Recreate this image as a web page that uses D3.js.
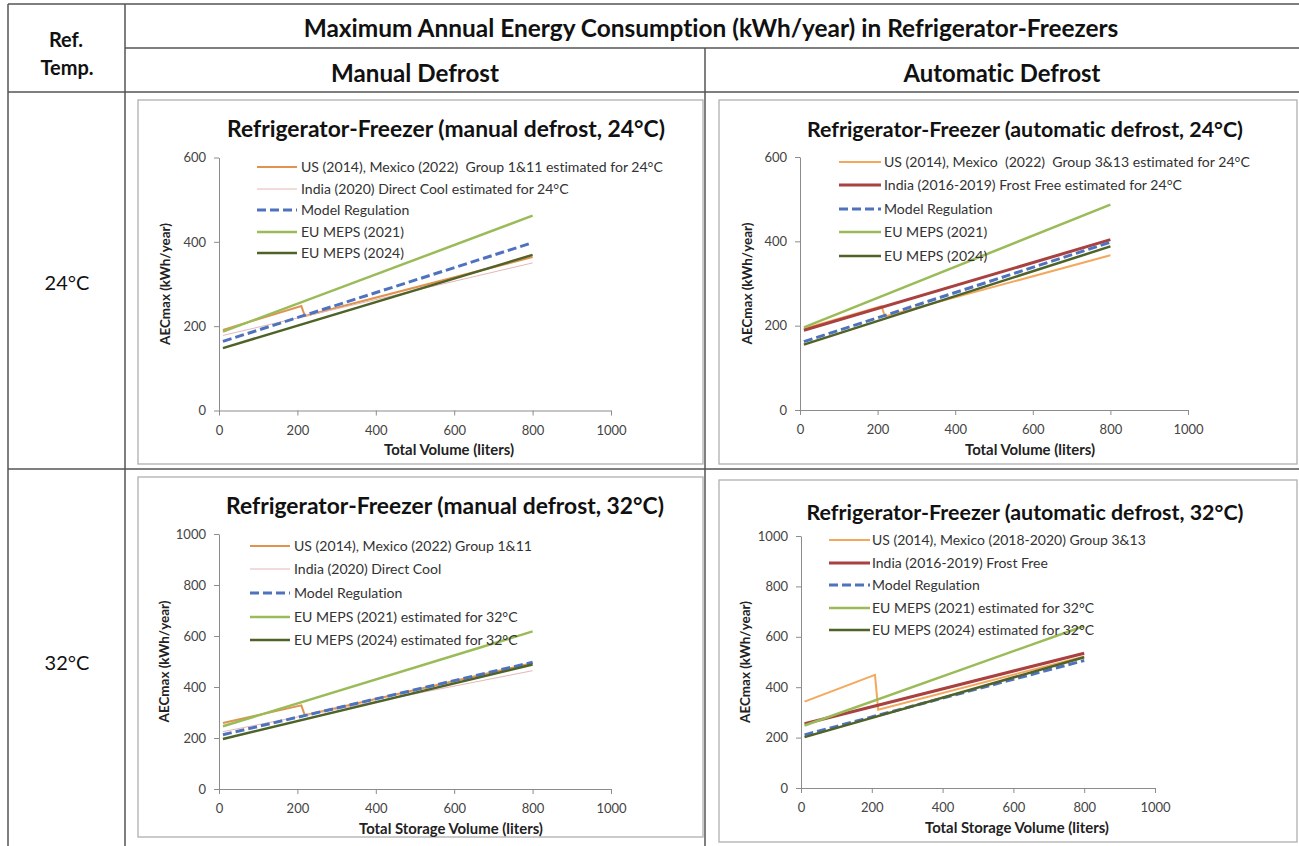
<!DOCTYPE html>
<html>
<head>
<meta charset="utf-8">
<script src="https://cdn.jsdelivr.net/npm/d3@7"></script>
<style>
  body { margin: 0; background: #fff; }
  svg text { font-family: Lato, "Open Sans", sans-serif; white-space: pre; font-variant-ligatures: none; }
</style>
</head>
<body>
<svg id="chart" width="1299" height="846"></svg>
<script>
// ---- data ----
const xTicks = [0, 200, 400, 600, 800, 1000];
const yTicks24 = [0, 200, 400, 600];
const yTicks32 = [0, 200, 400, 600, 800, 1000];

// volumes (liters) where the lines have points
const volLine = [10, 800];
const volUS = [10, 210, 219, 800];
const volUS32auto = [10, 209, 218, 800];

// manual defrost, 24°C
const md24US = [191, 248, 224, 364];
const md24India = [178, 350];
const md24Model = [164, 398];
const md24EU21 = [187, 462];
const md24EU24 = [148, 369];

// automatic defrost, 24°C
const ad24US = [193, 246, 222, 367];
const ad24India = [189, 404];
const ad24Model = [162, 398];
const ad24EU21 = [196, 487];
const ad24EU24 = [155, 388];

// manual defrost, 32°C
const md32US = [259, 328, 289, 494];
const md32India = [225, 464];
const md32Model = [213, 497];
const md32EU21 = [246, 618];
const md32EU24 = [196, 488];

// automatic defrost, 32°C
const ad32US = [343, 449, 311, 522];
const ad32India = [255, 535];
const ad32Model = [211, 506];
const ad32EU21 = [248, 643];
const ad32EU24 = [202, 519];

const legendMD24 = ["US (2014), Mexico (2022)  Group 1&11 estimated for 24°C", "India (2020) Direct Cool estimated for 24°C", "Model Regulation", "EU MEPS (2021)", "EU MEPS (2024)"];
const legendAD24 = ["US (2014), Mexico  (2022)  Group 3&13 estimated for 24°C", "India (2016-2019) Frost Free estimated for 24°C", "Model Regulation", "EU MEPS (2021)", "EU MEPS (2024)"];
const legendMD32 = ["US (2014), Mexico (2022) Group 1&11", "India (2020) Direct Cool", "Model Regulation", "EU MEPS (2021) estimated for 32°C", "EU MEPS (2024) estimated for 32°C"];
const legendAD32 = ["US (2014), Mexico (2018-2020) Group 3&13", "India (2016-2019) Frost Free", "Model Regulation", "EU MEPS (2021) estimated for 32°C", "EU MEPS (2024) estimated for 32°C"];

// ---- styles ----
const orangeDark = { color: "#e0924f", width: 2 };
const orangeLight = { color: "#f4a85e", width: 2 };
const indiaDC = { color: "#e3b8b6", width: 1 };
const indiaFF = { color: "#a8413f", width: 3 };
const model = { color: "#4f72be", width: 3, dash: "9,4" };
const eu21 = { color: "#9bbb59", width: 2.5 };
const eu24 = { color: "#4f6228", width: 2.5 };

const svg = d3.select("#chart");
const lineColor = "#555";

// fit text to a measured width by adjusting font-size
function fit(t, w) {
  const len = t.node().getComputedTextLength();
  const fs = parseFloat(t.attr("font-size"));
  t.attr("font-size", (fs * w / len).toFixed(2));
  return fs * w / len;
}

// ---- table frame ----
const frame = svg.append("g").attr("stroke", lineColor).attr("stroke-width", 1.5);
frame.append("line").attr("x1", 8).attr("x2", 1299).attr("y1", 4).attr("y2", 4);
frame.append("line").attr("x1", 8).attr("x2", 8).attr("y1", 4).attr("y2", 846);
frame.append("line").attr("x1", 125).attr("x2", 125).attr("y1", 4).attr("y2", 846);
frame.append("line").attr("x1", 125).attr("x2", 1299).attr("y1", 48).attr("y2", 48);
frame.append("line").attr("x1", 705).attr("x2", 705).attr("y1", 48).attr("y2", 846);
frame.append("line").attr("x1", 8).attr("x2", 1299).attr("y1", 92).attr("y2", 92);
frame.append("line").attr("x1", 8).attr("x2", 1299).attr("y1", 469).attr("y2", 469);

const head = (txt, x, y, w, weight) => {
  const t = svg.append("text").attr("x", x).attr("y", y).attr("text-anchor", "middle")
    .attr("font-size", 19).attr("font-weight", weight).attr("fill", "#111").text(txt);
  if (w) fit(t, w);
  return t;
};
head("Ref.", 66, 47, 0, "bold").attr("font-size", 20);
head("Temp.", 67, 75, 0, "bold").attr("font-size", 20);
head("Maximum Annual Energy Consumption (kWh/year) in Refrigerator-Freezers", 711, 37, 815, "bold");
head("Manual Defrost", 415, 82, 168, "bold");
head("Automatic Defrost", 1002, 82, 197, "bold");
head("24°C", 67, 290, 0, "normal").attr("font-size", 20);
head("32°C", 67, 670, 0, "normal").attr("font-size", 20);

// ---- panels ----
const panels = [
  {
    box: [138, 100, 703, 464], px: [219, 611], py: [410.5, 157.5], yMax: 600, yTicks: yTicks24,
    title: "Refrigerator-Freezer (manual defrost, 24°C)", titleX: 446, titleY: 137, titleW: 438,
    xLabel: "Total Volume (liters)", xLabelX: 449, xLabelY: 455, xLabelW: 130, yLabelX: 165,
    legend: legendMD24, legX: [257, 297, 301], legY: [167, 189, 210, 232, 253], legW: 362,
    series: [[volUS, md24US, orangeDark], [volLine, md24India, indiaDC], [volLine, md24Model, model], [volLine, md24EU21, eu21], [volLine, md24EU24, eu24]]
  },
  {
    box: [719, 100, 1297, 464], px: [800, 1188], py: [410, 157], yMax: 600, yTicks: yTicks24,
    title: "Refrigerator-Freezer (automatic defrost, 24°C)", titleX: 1025, titleY: 137, titleW: 436,
    xLabel: "Total Volume (liters)", xLabelX: 1030, xLabelY: 455, xLabelW: 130, yLabelX: 747,
    legend: legendAD24, legX: [839, 881, 884], legY: [162, 185, 209, 232, 256], legW: 366,
    series: [[volUS, ad24US, orangeLight], [volLine, ad24India, indiaFF], [volLine, ad24Model, model], [volLine, ad24EU21, eu21], [volLine, ad24EU24, eu24]]
  },
  {
    box: [138, 477, 703, 837], px: [219, 611], py: [789, 534], yMax: 1000, yTicks: yTicks32,
    title: "Refrigerator-Freezer (manual defrost, 32°C)", titleX: 445, titleY: 514, titleW: 438,
    xLabel: "Total Storage Volume (liters)", xLabelX: 451, xLabelY: 834, xLabelW: 184, yLabelX: 164,
    legend: legendMD32, legX: [250, 290, 294], legY: [546, 569, 593, 617, 640], legW: 238,
    series: [[volUS, md32US, orangeDark], [volLine, md32India, indiaDC], [volLine, md32Model, model], [volLine, md32EU21, eu21], [volLine, md32EU24, eu24]]
  },
  {
    box: [719, 480, 1297, 842], px: [801, 1155], py: [788, 536], yMax: 1000, yTicks: yTicks32,
    title: "Refrigerator-Freezer (automatic defrost, 32°C)", titleX: 1025, titleY: 520, titleW: 437,
    xLabel: "Total Storage Volume (liters)", xLabelX: 1017, xLabelY: 833, xLabelW: 184, yLabelX: 745,
    legend: legendAD32, legX: [829, 870, 872], legY: [540, 563, 585, 608, 630], legW: 274,
    series: [[volUS32auto, ad32US, orangeLight], [volLine, ad32India, indiaFF], [volLine, ad32Model, model], [volLine, ad32EU21, eu21], [volLine, ad32EU24, eu24]]
  }
];

panels.forEach(p => {
  const g = svg.append("g");
  g.append("rect")
    .attr("x", p.box[0]).attr("y", p.box[1])
    .attr("width", p.box[2] - p.box[0]).attr("height", p.box[3] - p.box[1])
    .attr("fill", "#fff").attr("stroke", "#b0b0b0").attr("stroke-width", 1.3);

  const x = d3.scaleLinear().domain([0, 1000]).range(p.px);
  const y = d3.scaleLinear().domain([0, p.yMax]).range(p.py);

  const xa = g.append("g").attr("transform", `translate(0,${p.py[0]})`)
    .call(d3.axisBottom(x).tickValues(xTicks).tickFormat(d3.format("d")).tickSize(5).tickSizeOuter(0).tickPadding(10));
  const ya = g.append("g").attr("transform", `translate(${p.px[0]},0)`)
    .call(d3.axisLeft(y).tickValues(p.yTicks).tickFormat(d3.format("d")).tickSize(5).tickSizeOuter(0).tickPadding(8));
  [xa, ya].forEach(a => {
    a.select(".domain").attr("stroke", "#8c8c8c");
    a.selectAll(".tick line").attr("stroke", "#8c8c8c");
    a.selectAll(".tick text").attr("font-size", 13).attr("fill", "#444")
      .style("font-family", "Lato, sans-serif");
  });

  // title
  const t = g.append("text").attr("x", p.titleX).attr("y", p.titleY).attr("text-anchor", "middle")
    .attr("font-size", 20).attr("font-weight", "bold").attr("fill", "#111").text(p.title);
  fit(t, p.titleW);

  // axis titles
  const xl = g.append("text").attr("x", p.xLabelX).attr("y", p.xLabelY).attr("text-anchor", "middle")
    .attr("font-size", 12).attr("font-weight", "bold").attr("fill", "#222").text(p.xLabel);
  fit(xl, p.xLabelW);
  const yl = g.append("text")
    .attr("transform", `translate(${p.yLabelX},${(p.py[0] + p.py[1]) / 2}) rotate(-90)`)
    .attr("dy", "0.35em").attr("text-anchor", "middle")
    .attr("font-size", 12).attr("font-weight", "bold").attr("fill", "#222").text("AECmax (kWh/year)");
  fit(yl, 122);

  // lines
  const line = d3.line().x(d => x(d[0])).y(d => y(d[1]));
  p.series.forEach(([vols, vals, st]) => {
    g.append("path")
      .datum(vols.map((v, i) => [v, vals[i]]))
      .attr("d", line)
      .attr("fill", "none")
      .attr("stroke", st.color)
      .attr("stroke-width", st.width)
      .attr("stroke-dasharray", st.dash || null);
  });

  // legend
  let legFs = 13;
  p.legend.forEach((lab, i) => {
    const st = p.series[i][2];
    const ly = p.legY[i];
    g.append("line").attr("x1", p.legX[0]).attr("x2", p.legX[1]).attr("y1", ly).attr("y2", ly)
      .attr("stroke", st.color).attr("stroke-width", st.width).attr("stroke-dasharray", st.dash || null);
    const lt = g.append("text").attr("x", p.legX[2]).attr("y", ly).attr("dy", "0.36em")
      .attr("font-size", legFs).attr("fill", "#333").text(lab);
    if (i === 0) legFs = fit(lt, p.legW);
  });
});
</script>
</body>
</html>
